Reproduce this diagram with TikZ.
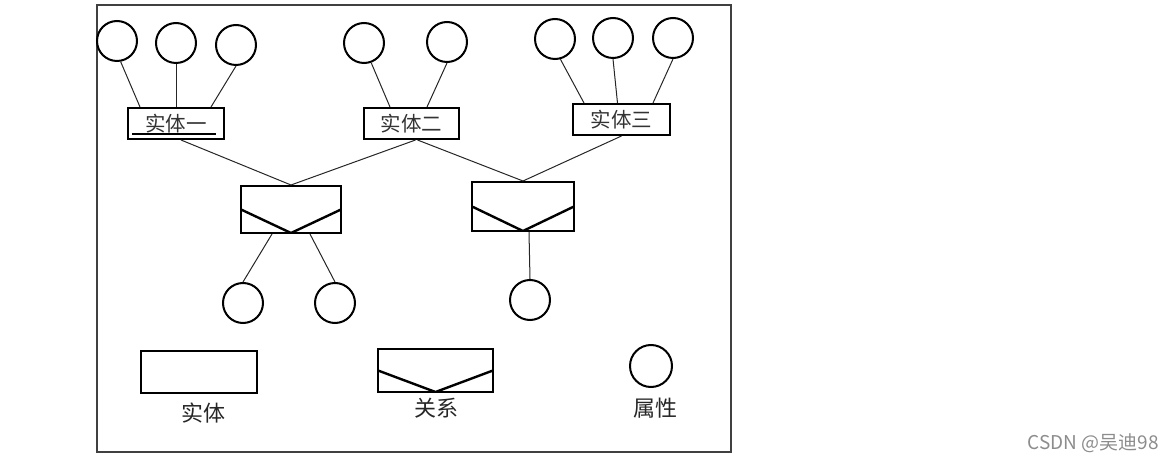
\documentclass[tikz,border=0pt]{standalone}
\usepackage{fontspec}
\newfontfamily\cjk{Noto Sans CJK SC}
\tikzset{
  attr/.style={draw, circle, line width=2pt, minimum size=40pt, inner sep=0pt},
  entity/.style={draw, rectangle, line width=2pt, inner sep=0pt,
    font=\cjk\fontsize{20.5}{20.5}\selectfont, text=black!80},
  relation/.style={draw, rectangle, line width=2pt, inner sep=0pt,
    path picture={\draw[line width=2.4pt] (path picture bounding box.west)
      -- (path picture bounding box.south) -- (path picture bounding box.east);}},
  link/.style={line width=1pt, black!85},
  caption/.style={font=\cjk\fontsize{22}{22}\selectfont, text=black!85}
}

\begin{document}
\begin{tikzpicture}[x=1pt, y=-1pt]

    \useasboundingbox (0,0) rectangle (1176,462);
    \draw[line width=1.1pt, black!75] (97,5) rectangle (731,452);

    \node[attr] (a11) at (117,41) {};
    \node[attr] (a12) at (176,43) {};
    \node[attr] (a13) at (236,45) {};
    \node[attr] (a21) at (364,43) {};
    \node[attr] (a22) at (447,42) {};
    \node[attr] (a31) at (555,39) {};
    \node[attr] (a32) at (613,38) {};
    \node[attr] (a33) at (673,38) {};

    \node[entity, minimum width=96pt, minimum height=31pt] (e1) at (176,123.5) {实体一};
    \node[entity, minimum width=95pt, minimum height=31pt] (e2) at (411.5,123.5) {实体二};
    \node[entity, minimum width=97pt, minimum height=31pt] (e3) at (621.5,119.5) {实体三};
    \draw[line width=2pt] ([xshift=5,yshift=6]e1.south west) -- ([xshift=-9,yshift=6]e1.south east);

    \node[relation, minimum width=100pt, minimum height=47pt] (r1) at (291,209.5) {};
    \node[relation, minimum width=102pt, minimum height=49pt] (r2) at (523,206.5) {};

    \node[attr] (b1) at (243,303) {};
    \node[attr] (b2) at (335,303) {};
    \node[attr] (b3) at (530,300) {};

    \draw[link] (a11.-80) -- ([xshift=13]e1.north west);
    \draw[link] (a12.south) -- (e1.north);
    \draw[link] (a13.south) -- ([xshift=-14]e1.north east);
    \draw[link] (a21.-70) -- ([xshift=27]e2.north west);
    \draw[link] (a22.south) -- ([xshift=-33]e2.north east);
    \draw[link] (a31.-75) -- ([xshift=12]e3.north west);
    \draw[link] (a32.south) -- ([xshift=-4]e3.north);
    \draw[link] (a33.south) -- ([xshift=-18]e3.north east);

    \draw[link] ([xshift=5]e1.south) -- (r1.north);
    \draw[link] ([xshift=4]e2.south) -- (r1.north);
    \draw[link] ([xshift=6]e2.south) -- (r2.north);
    \draw[link] (e3.south) -- (r2.north);

    \draw[link] ([xshift=-19]r1.south) -- (b1.north);
    \draw[link] ([xshift=19]r1.south) -- (b2.north);
    \draw[link] ([xshift=6]r2.south) -- (b3.north);

    \node[entity, minimum width=116pt, minimum height=42pt] (le) at (199,372) {};
    \node[relation, minimum width=115pt, minimum height=43pt] (lr) at (435.5,370.5) {};
    \node[attr, minimum size=42pt] (la) at (651,366) {};
    \node[caption] (te) at (203,413) {实体};
    \node[caption] (tr) at (436,408) {关系};
    \node[caption] (ta) at (655,408) {属性};

    \node[anchor=west, text=black!45, font=\cjk\fontsize{19}{19}\selectfont] (wm) at (1024,443) {CSDN @吴迪98};

  \end{tikzpicture}
\end{document}
